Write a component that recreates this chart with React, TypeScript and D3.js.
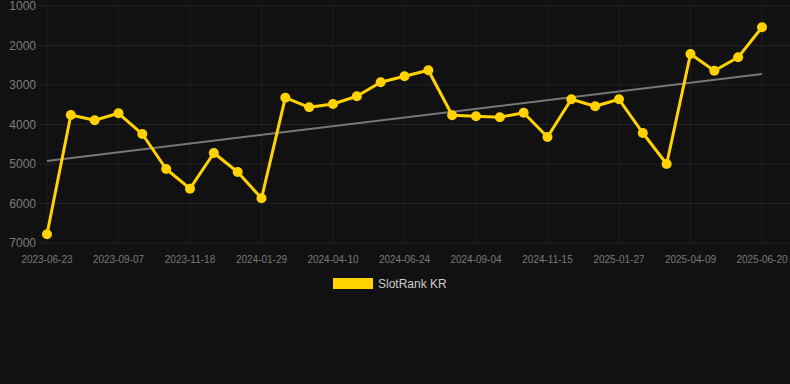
import React from "react";
import * as d3 from "d3";

const tickLabels = [
  "2023-06-23", "2023-09-07", "2023-11-18", "2024-01-29", "2024-04-10", "2024-06-24",
  "2024-09-04", "2024-11-15", "2025-01-27", "2025-04-09", "2025-06-20",
];
const rankValues = [
  6780, 3759, 3894, 3716, 4241, 5127, 5625, 4722, 5203, 5868,
  3322, 3565, 3481, 3286, 2932, 2780, 2628, 3767, 3792, 3818,
  3701, 4316, 3362, 3539, 3362, 4215, 5000, 2215, 2638, 2299, 1539,
];
const yTicks = [1000, 2000, 3000, 4000, 5000, 6000, 7000];
const seriesName = "SlotRank KR";

const W = 790;
const H = 384;
const plotLeft = 40;
const plotRight = 790;
const plotTop = 6;
const plotBottom = 243;

export default function App() {
  const idx = rankValues.map((_, i) => i);
  const x = d3.scaleLinear().domain([0, rankValues.length - 1]).range([47, 762]);
  const y = d3.scaleLinear().domain([1000, 7000]).range([plotTop, plotBottom]);

  const line = d3
    .line<number>()
    .x((_, i) => x(i))
    .y((d) => y(d));

  // linear regression trend
  const n = rankValues.length;
  const mx = d3.mean(idx)!;
  const my = d3.mean(rankValues)!;
  const sxy = d3.sum(idx, (i) => (i - mx) * (rankValues[i] - my));
  const sxx = d3.sum(idx, (i) => (i - mx) * (i - mx));
  const slope = sxy / sxx;
  const icpt = my - slope * mx;
  const t0 = icpt;
  const t1 = icpt + slope * (n - 1);

  const font = "'Liberation Sans', Arial, Helvetica, sans-serif";
  const gold = "#FFD200";

  return (
    <svg
      width={W}
      height={H}
      style={{ position: "absolute", left: 0, top: 0, background: "#111111" }}
      fontFamily={font}
    >
      <rect x={0} y={0} width={W} height={H} fill="#111111" />
      {tickLabels.map((lab, k) => {
        const xi = x(k * 3);
        return (
          <g key={lab}>
            <line x1={xi} x2={xi} y1={plotTop} y2={plotBottom} stroke="#1c1c1c" strokeWidth={1} />
            <text x={xi} y={259} dy="0.35em" textAnchor="middle" fontSize={10} fill="#7a7a7a">
              {lab}
            </text>
          </g>
        );
      })}
      {yTicks.map((t) => (
        <g key={t}>
          <line x1={plotLeft} x2={plotRight} y1={y(t)} y2={y(t)} stroke="#222222" strokeWidth={1} />
          <text x={36} y={y(t)} dy="0.35em" textAnchor="end" fontSize={12} fill="#7e7e7e">
            {t}
          </text>
        </g>
      ))}
      <line
        x1={x(0)}
        x2={x(n - 1)}
        y1={y(t0)}
        y2={y(t1)}
        stroke="#777777"
        strokeWidth={2}
      />
      <path d={line(rankValues) || ""} fill="none" stroke={gold} strokeWidth={3} strokeLinejoin="round" />
      {rankValues.map((v, i) => (
        <circle key={i} cx={x(i)} cy={y(v)} r={5} fill={gold} />
      ))}
      <rect x={333} y={278} width={40} height={11} fill={gold} />
      <text x={378} y={284} dy="0.35em" fontSize={12} fill="#cccccc">
        {seriesName}
      </text>
    </svg>
  );
}
